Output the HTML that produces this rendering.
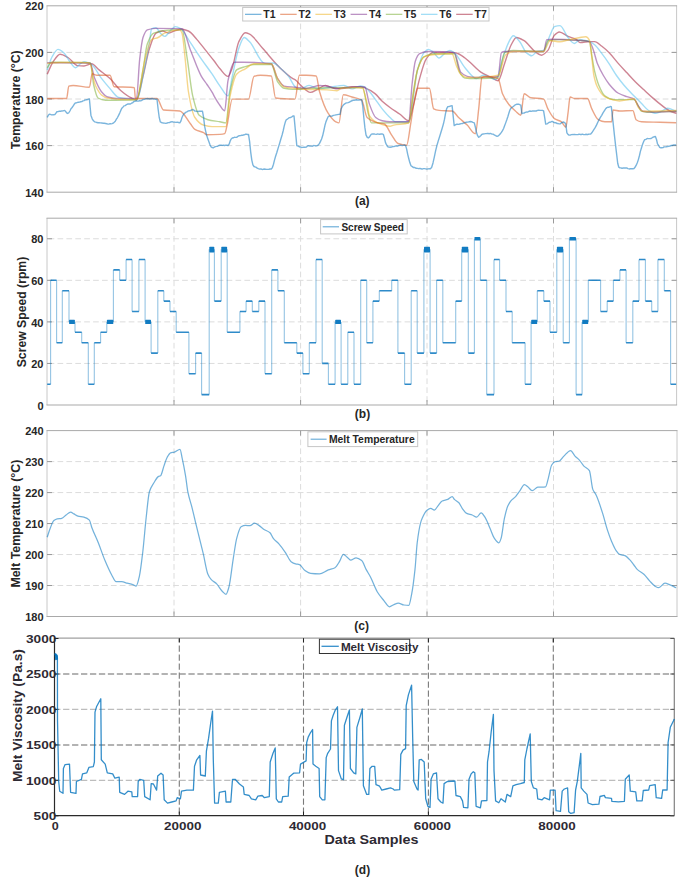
<!DOCTYPE html>
<html><head><meta charset="utf-8"><title>Figure</title>
<style>html,body{margin:0;padding:0;background:#fff;}svg{display:block;}</style></head>
<body><svg width="685" height="878" viewBox="0 0 685 878">
<rect width="685" height="878" fill="#fff"/>
<line x1="47" y1="52.40" x2="676.6" y2="52.40" stroke="#dcdcdc" stroke-width="1" stroke-dasharray="5.7 3.2" stroke-dashoffset="-1.6"/>
<line x1="47" y1="99.00" x2="676.6" y2="99.00" stroke="#dcdcdc" stroke-width="1" stroke-dasharray="5.7 3.2" stroke-dashoffset="-1.6"/>
<line x1="47" y1="145.60" x2="676.6" y2="145.60" stroke="#dcdcdc" stroke-width="1" stroke-dasharray="5.7 3.2" stroke-dashoffset="-1.6"/>
<line x1="174" y1="5.8" x2="174" y2="192.2" stroke="#dcdcdc" stroke-width="1" stroke-dasharray="5.7 3.2"/>
<line x1="300.6" y1="5.8" x2="300.6" y2="192.2" stroke="#dcdcdc" stroke-width="1" stroke-dasharray="5.7 3.2"/>
<line x1="427" y1="5.8" x2="427" y2="192.2" stroke="#dcdcdc" stroke-width="1" stroke-dasharray="5.7 3.2"/>
<line x1="553.5" y1="5.8" x2="553.5" y2="192.2" stroke="#dcdcdc" stroke-width="1" stroke-dasharray="5.7 3.2"/>
<path d="M47,5.8V192.2M676.6,5.8V192.2" fill="none" stroke="#c8c8c8" stroke-width="1"/>
<path d="M46.5,5.8H677.1M46.5,192.2H677.1" fill="none" stroke="#a9a9a9" stroke-width="1"/>
<line x1="47" y1="52.4" x2="52" y2="52.4" stroke="#9a9a9a" stroke-width="1"/>
<line x1="671.6" y1="52.4" x2="676.6" y2="52.4" stroke="#9a9a9a" stroke-width="1"/>
<line x1="47" y1="99.0" x2="52" y2="99.0" stroke="#9a9a9a" stroke-width="1"/>
<line x1="671.6" y1="99.0" x2="676.6" y2="99.0" stroke="#9a9a9a" stroke-width="1"/>
<line x1="47" y1="145.6" x2="52" y2="145.6" stroke="#9a9a9a" stroke-width="1"/>
<line x1="671.6" y1="145.6" x2="676.6" y2="145.6" stroke="#9a9a9a" stroke-width="1"/>
<line x1="174" y1="192.2" x2="174" y2="187.2" stroke="#9a9a9a" stroke-width="1"/>
<line x1="174" y1="5.8" x2="174" y2="10.8" stroke="#9a9a9a" stroke-width="1"/>
<line x1="300.6" y1="192.2" x2="300.6" y2="187.2" stroke="#9a9a9a" stroke-width="1"/>
<line x1="300.6" y1="5.8" x2="300.6" y2="10.8" stroke="#9a9a9a" stroke-width="1"/>
<line x1="427" y1="192.2" x2="427" y2="187.2" stroke="#9a9a9a" stroke-width="1"/>
<line x1="427" y1="5.8" x2="427" y2="10.8" stroke="#9a9a9a" stroke-width="1"/>
<line x1="553.5" y1="192.2" x2="553.5" y2="187.2" stroke="#9a9a9a" stroke-width="1"/>
<line x1="553.5" y1="5.8" x2="553.5" y2="10.8" stroke="#9a9a9a" stroke-width="1"/>
<text x="43.5" y="10.4" text-anchor="end" font-family="Liberation Sans, sans-serif" font-size="11" font-weight="bold" fill="#262626">220</text>
<text x="43.5" y="57.0" text-anchor="end" font-family="Liberation Sans, sans-serif" font-size="11" font-weight="bold" fill="#262626">200</text>
<text x="43.5" y="103.6" text-anchor="end" font-family="Liberation Sans, sans-serif" font-size="11" font-weight="bold" fill="#262626">180</text>
<text x="43.5" y="150.2" text-anchor="end" font-family="Liberation Sans, sans-serif" font-size="11" font-weight="bold" fill="#262626">160</text>
<text x="43.5" y="196.8" text-anchor="end" font-family="Liberation Sans, sans-serif" font-size="11" font-weight="bold" fill="#262626">140</text>
<text transform="translate(20.1,99.8) rotate(-90)" text-anchor="middle" textLength="99" lengthAdjust="spacingAndGlyphs" font-family="Liberation Sans, sans-serif" font-size="12.2" font-weight="bold" fill="#262626">Temperature (°C)</text>
<g fill="none" stroke-width="1.4" stroke-linejoin="round" stroke-opacity="0.52">
<path d="M47.20,74.20 C49.13,70.13 51.07,64.80 53.00,62.00 C55.37,58.58 57.73,54.30 60.10,54.30 C62.73,54.30 65.37,56.07 68.00,57.50 C71.17,59.22 74.33,65.26 77.50,65.60 C79.67,65.84 81.83,66.00 84.00,66.00 C86.50,66.00 89.00,63.80 91.50,63.80 C94.03,63.80 96.57,67.87 99.10,69.90 C102.73,72.81 106.37,75.22 110.00,78.60 C113.57,81.92 117.13,87.45 120.70,90.50 C124.30,93.58 127.90,96.36 131.50,98.00 C133.17,98.76 134.83,99.80 136.50,99.80 C138.67,99.80 140.83,84.91 143.00,76.40 C145.17,67.89 147.33,54.88 149.50,48.30 C151.67,41.72 153.83,34.33 156.00,33.10 C158.17,31.87 160.33,31.00 162.50,31.00 C164.63,31.00 166.77,33.10 168.90,33.10 C171.07,33.10 173.23,31.07 175.40,30.50 C177.60,29.92 179.80,29.20 182.00,29.20 C184.13,29.20 186.27,30.09 188.40,31.00 C191.27,32.22 194.13,36.43 197.00,39.60 C199.90,42.81 202.80,46.78 205.70,50.40 C208.60,54.02 211.50,57.54 214.40,61.30 C216.27,63.72 218.13,66.70 220.00,68.80 C222.67,71.79 225.33,76.40 228.00,76.40 C229.43,76.40 230.87,71.46 232.30,67.70 C234.47,62.01 236.63,46.29 238.80,41.80 C240.97,37.31 243.13,32.70 245.30,32.70 C246.73,32.70 248.17,33.50 249.60,34.20 C253.93,36.31 258.27,43.53 262.60,48.30 C268.37,54.65 274.13,62.20 279.90,67.70 C284.23,71.83 288.57,76.13 292.90,78.60 C293.60,79.00 294.30,79.18 295.00,79.60 C297.33,81.01 299.67,84.55 302.00,86.50 C304.73,88.78 307.47,92.40 310.20,92.40 C312.80,92.40 315.40,90.20 318.00,89.00 C320.47,87.87 322.93,85.40 325.40,85.40 C328.90,85.40 332.40,88.90 335.90,88.90 C338.93,88.90 341.97,87.86 345.00,87.50 C347.33,87.22 349.67,86.89 352.00,86.80 C354.80,86.69 357.60,86.60 360.40,86.60 C361.93,86.60 363.47,87.27 365.00,87.80 C368.33,88.95 371.67,91.05 375.00,93.60 C377.40,95.43 379.80,99.11 382.20,101.30 C384.80,103.68 387.40,105.59 390.00,107.50 C393.33,109.95 396.67,111.96 400.00,114.30 C402.93,116.36 405.87,120.70 408.80,120.70 C410.23,120.70 411.67,111.97 413.10,106.70 C415.27,98.73 417.43,86.27 419.60,78.60 C421.77,70.93 423.93,62.35 426.10,59.10 C428.27,55.85 430.43,52.71 432.60,52.60 C438.40,52.30 444.20,52.20 450.00,52.20 C452.13,52.20 454.27,52.57 456.40,53.00 C459.27,53.57 462.13,55.98 465.00,58.00 C466.67,59.18 468.33,60.83 470.00,62.30 C473.60,65.47 477.20,69.78 480.80,72.10 C484.40,74.42 488.00,75.72 491.60,77.50 C493.77,78.57 495.93,80.70 498.10,80.70 C500.27,80.70 502.43,69.34 504.60,63.40 C506.77,57.46 508.93,49.00 511.10,45.00 C512.90,41.68 514.70,37.50 516.50,37.50 C519.03,37.50 521.57,39.23 524.10,40.70 C527.70,42.78 531.30,48.95 534.90,51.50 C537.07,53.04 539.23,55.20 541.40,55.20 C543.57,55.20 545.73,52.83 547.90,50.40 C550.07,47.97 552.23,37.51 554.40,35.30 C556.03,33.64 557.67,32.00 559.30,32.00 C562.20,32.00 565.10,35.16 568.00,36.40 C570.87,37.63 573.73,38.01 576.60,39.60 C577.73,40.23 578.87,42.60 580.00,42.60 C583.40,42.60 586.80,41.60 590.20,41.60 C591.67,41.60 593.13,41.60 594.60,41.60 C597.03,41.60 599.47,44.48 601.90,46.30 C604.33,48.12 606.77,50.35 609.20,52.80 C612.13,55.75 615.07,59.79 618.00,63.10 C620.90,66.38 623.80,69.47 626.70,72.60 C629.63,75.77 632.57,79.08 635.50,82.00 C638.40,84.88 641.30,87.43 644.20,90.10 C647.13,92.80 650.07,95.56 653.00,98.10 C655.93,100.64 658.87,103.16 661.80,105.40 C664.20,107.23 666.60,109.29 669.00,110.50 C671.47,111.75 673.93,112.43 676.40,113.40" stroke="#A2142F"/>
<path d="M47.20,69.90 C48.80,65.60 50.40,59.79 52.00,57.00 C54.00,53.51 56.00,49.40 58.00,49.40 C60.00,49.40 62.00,51.29 64.00,53.00 C66.00,54.71 68.00,59.50 70.00,62.00 C71.77,64.21 73.53,67.70 75.30,67.70 C76.87,67.70 78.43,65.04 80.00,64.00 C81.33,63.12 82.67,61.70 84.00,61.70 C86.50,61.70 89.00,63.07 91.50,64.50 C94.77,66.37 98.03,73.89 101.30,78.10 C104.20,81.84 107.10,85.39 110.00,88.60 C112.87,91.77 115.73,96.73 118.60,97.40 C124.57,98.78 130.53,99.50 136.50,99.50 C139.37,99.50 142.23,78.90 145.10,65.60 C146.57,58.80 148.03,50.34 149.50,41.80 C150.20,37.73 150.90,29.18 151.60,28.80 C153.07,28.01 154.53,27.70 156.00,27.70 C157.43,27.70 158.87,31.73 160.30,33.10 C161.73,34.47 163.17,36.40 164.60,36.40 C166.77,36.40 168.93,31.76 171.10,29.90 C172.53,28.67 173.97,26.60 175.40,26.60 C177.20,26.60 179.00,27.72 180.80,28.80 C184.07,30.77 187.33,38.10 190.60,42.90 C194.20,48.19 197.80,53.89 201.40,59.10 C205.00,64.31 208.60,68.93 212.20,74.20 C214.80,78.00 217.40,82.57 220.00,86.10 C222.67,89.73 225.33,95.90 228.00,95.90 C229.43,95.90 230.87,82.75 232.30,76.40 C234.47,66.79 236.63,54.16 238.80,48.30 C240.60,43.43 242.40,37.50 244.20,37.50 C246.00,37.50 247.80,40.04 249.60,41.80 C254.67,46.75 259.73,63.40 264.80,63.40 C267.67,63.40 270.53,63.00 273.40,63.00 C275.57,63.00 277.73,65.90 279.90,67.70 C282.80,70.12 285.70,72.79 288.60,76.40 C290.73,79.05 292.87,84.74 295.00,86.60 C296.57,87.96 298.13,89.50 299.70,89.50 C302.80,89.50 305.90,85.40 309.00,85.40 C312.13,85.40 315.27,88.90 318.40,88.90 C322.27,88.90 326.13,87.73 330.00,87.20 C334.67,86.56 339.33,85.40 344.00,85.40 C346.73,85.40 349.47,88.90 352.20,88.90 C354.93,88.90 357.67,86.00 360.40,86.00 C361.60,86.00 362.80,86.28 364.00,86.60 C365.67,87.05 367.33,89.25 369.00,91.00 C371.00,93.10 373.00,96.20 375.00,98.90 C377.40,102.14 379.80,105.95 382.20,108.90 C384.80,112.10 387.40,115.22 390.00,117.50 C391.93,119.20 393.87,121.80 395.80,121.80 C400.13,121.80 404.47,121.80 408.80,121.80 C411.70,121.80 414.60,80.38 417.50,69.90 C419.67,62.07 421.83,55.03 424.00,52.60 C425.43,50.99 426.87,49.40 428.30,49.40 C429.73,49.40 431.17,50.58 432.60,51.50 C434.77,52.89 436.93,58.00 439.10,58.00 C441.27,58.00 443.43,53.95 445.60,52.60 C447.03,51.71 448.47,50.40 449.90,50.40 C451.33,50.40 452.77,51.59 454.20,52.60 C457.80,55.13 461.40,63.62 465.00,67.70 C468.83,72.04 472.67,78.60 476.50,78.60 C478.67,78.60 480.83,75.30 483.00,75.30 C487.33,75.30 491.67,79.60 496.00,79.60 C498.17,79.60 500.33,65.41 502.50,59.10 C504.63,52.89 506.77,45.63 508.90,41.80 C510.37,39.16 511.83,35.70 513.30,35.70 C515.47,35.70 517.63,39.20 519.80,41.80 C521.97,44.40 524.13,50.73 526.30,52.60 C528.10,54.15 529.90,55.80 531.70,55.80 C533.50,55.80 535.30,52.01 537.10,51.50 C539.27,50.88 541.43,51.09 543.60,50.40 C545.73,49.72 547.87,39.87 550.00,35.30 C551.47,32.16 552.93,27.10 554.40,26.60 C556.27,25.97 558.13,25.60 560.00,25.60 C562.67,25.60 565.33,34.49 568.00,37.50 C570.17,39.95 572.33,43.50 574.50,43.50 C576.33,43.50 578.17,39.70 580.00,39.70 C582.93,39.70 585.87,40.38 588.80,41.20 C590.73,41.74 592.67,43.23 594.60,44.80 C597.03,46.77 599.47,50.45 601.90,53.60 C604.33,56.75 606.77,60.17 609.20,63.80 C611.63,67.43 614.07,72.00 616.50,75.50 C618.93,79.00 621.37,82.10 623.80,85.00 C626.23,87.90 628.67,90.45 631.10,93.00 C634.50,96.56 637.90,99.80 641.30,103.20 C643.73,105.63 646.17,109.12 648.60,110.50 C651.03,111.88 653.47,113.40 655.90,113.40 C657.87,113.40 659.83,112.04 661.80,111.20 C663.73,110.37 665.67,108.30 667.60,108.30 C670.53,108.30 673.47,110.23 676.40,111.20" stroke="#4DBEEE"/>
<path d="M47.20,67.70 C48.63,65.90 50.07,62.30 51.50,62.30 C64.47,62.30 77.43,62.34 90.40,62.80 C91.50,62.84 92.60,80.33 93.70,85.00 C95.13,91.08 96.57,97.18 98.00,98.00 C100.53,99.45 103.07,100.20 105.60,100.20 C115.90,100.20 126.20,100.14 136.50,99.80 C138.67,99.73 140.83,81.33 143.00,69.90 C144.43,62.34 145.87,47.79 147.30,43.90 C149.47,38.03 151.63,33.85 153.80,33.10 C160.30,30.85 166.80,29.90 173.30,29.90 C176.20,29.90 179.10,29.90 182.00,29.90 C183.77,29.90 185.53,48.34 187.30,59.10 C189.10,70.06 190.90,88.34 192.70,95.90 C194.87,105.00 197.03,113.36 199.20,115.30 C202.10,117.90 205.00,118.93 207.90,119.70 C211.93,120.77 215.97,121.07 220.00,121.80 C221.93,122.15 223.87,122.90 225.80,122.90 C227.23,122.90 228.67,98.22 230.10,91.50 C232.27,81.35 234.43,71.39 236.60,69.90 C239.50,67.90 242.40,67.57 245.30,66.70 C248.20,65.83 251.10,64.50 254.00,64.50 C259.77,64.50 265.53,64.50 271.30,64.50 C273.43,64.50 275.57,78.68 277.70,81.80 C279.87,84.97 282.03,87.79 284.20,88.30 C287.10,88.98 290.00,89.40 292.90,89.40 C296.93,89.40 300.97,88.63 305.00,88.50 C324.23,87.87 343.47,87.50 362.70,87.50 C364.53,87.50 366.37,106.58 368.20,113.20 C369.27,117.05 370.33,122.90 371.40,122.90 C383.87,122.90 396.33,122.90 408.80,122.90 C410.23,122.90 411.67,102.33 413.10,93.70 C414.57,84.86 416.03,74.36 417.50,69.90 C419.63,63.42 421.77,58.07 423.90,56.90 C427.53,54.91 431.17,53.70 434.80,53.70 C441.27,53.70 447.73,53.70 454.20,53.70 C456.00,53.70 457.80,69.08 459.60,72.10 C461.40,75.12 463.20,77.91 465.00,78.10 C468.33,78.45 471.67,78.60 475.00,78.60 C482.70,78.60 490.40,78.39 498.10,77.50 C500.27,77.25 502.43,53.67 504.60,52.60 C507.50,51.16 510.40,50.40 513.30,50.40 C523.40,50.40 533.50,51.50 543.60,51.50 C545.03,51.50 546.47,41.00 547.90,40.70 C551.93,39.87 555.97,39.60 560.00,39.60 C566.67,39.60 573.33,39.97 580.00,40.40 C583.17,40.61 586.33,40.62 589.50,41.60 C590.23,41.83 590.97,50.73 591.70,55.00 C592.67,60.63 593.63,67.01 594.60,71.10 C596.07,77.30 597.53,82.28 599.00,85.70 C600.93,90.21 602.87,94.53 604.80,95.90 C607.73,97.98 610.67,99.60 613.60,99.60 C620.40,99.60 627.20,99.60 634.00,99.60 C635.47,99.60 636.93,103.73 638.40,106.10 C639.37,107.66 640.33,110.83 641.30,111.20 C643.20,111.92 645.10,112.30 647.00,112.30 C656.80,112.30 666.60,111.57 676.40,111.20" stroke="#77AC30"/>
<path d="M47.20,62.80 C61.47,62.93 75.73,62.84 90.00,63.20 C91.60,63.24 93.20,74.63 94.80,78.60 C96.97,83.98 99.13,88.90 101.30,91.50 C103.43,94.06 105.57,96.37 107.70,97.00 C110.60,97.86 113.50,98.50 116.40,98.50 C123.10,98.50 129.80,98.50 136.50,98.50 C137.57,98.50 138.63,68.23 139.70,59.10 C140.80,49.68 141.90,40.64 143.00,37.50 C144.43,33.41 145.87,30.40 147.30,29.90 C150.20,28.90 153.10,28.40 156.00,28.40 C164.67,28.40 173.33,28.48 182.00,28.80 C184.87,28.91 187.73,43.35 190.60,50.40 C194.20,59.26 197.80,70.06 201.40,76.40 C203.27,79.69 205.13,81.73 207.00,84.50 C208.73,87.07 210.47,89.47 212.20,92.40 C213.13,93.98 214.07,95.99 215.00,97.60 C216.67,100.47 218.33,103.31 220.00,105.50 C221.57,107.56 223.13,110.80 224.70,110.80 C225.80,110.80 226.90,85.74 228.00,80.70 C230.17,70.77 232.33,62.30 234.50,62.30 C237.37,62.30 240.23,62.30 243.10,62.30 C252.50,62.30 261.90,62.58 271.30,63.80 C273.43,64.08 275.57,75.31 277.70,78.60 C279.87,81.94 282.03,85.66 284.20,86.10 C287.80,86.82 291.40,86.83 295.00,87.20 C298.90,87.60 302.80,88.40 306.70,88.40 C311.13,88.40 315.57,85.50 320.00,85.50 C326.67,85.50 333.33,88.50 340.00,88.50 C346.67,88.50 353.33,86.60 360.00,86.60 C361.67,86.60 363.33,86.80 365.00,87.20 C366.40,87.54 367.80,99.54 369.20,103.50 C371.37,109.63 373.53,115.76 375.70,117.50 C377.87,119.24 380.03,120.22 382.20,120.70 C384.80,121.28 387.40,121.80 390.00,121.80 C396.27,121.80 402.53,121.80 408.80,121.80 C409.87,121.80 410.93,94.44 412.00,85.00 C413.10,75.26 414.20,64.51 415.30,61.30 C416.73,57.12 418.17,54.39 419.60,53.70 C422.50,52.30 425.40,51.50 428.30,51.50 C436.93,51.50 445.57,51.70 454.20,52.60 C456.37,52.83 458.53,69.75 460.70,72.10 C462.87,74.45 465.03,75.89 467.20,76.40 C469.80,77.02 472.40,77.50 475.00,77.50 C482.70,77.50 490.40,77.37 498.10,76.40 C499.20,76.26 500.30,53.32 501.40,52.60 C502.47,51.90 503.53,51.50 504.60,51.50 C517.60,51.50 530.60,51.50 543.60,51.50 C544.67,51.50 545.73,39.77 546.80,39.60 C548.60,39.32 550.40,39.20 552.20,39.20 C561.47,39.20 570.73,39.75 580.00,40.40 C583.17,40.62 586.33,40.73 589.50,41.60 C590.70,41.93 591.90,46.13 593.10,49.20 C594.57,52.96 596.03,60.11 597.50,63.80 C599.47,68.74 601.43,72.14 603.40,75.50 C605.33,78.80 607.27,81.85 609.20,84.20 C612.13,87.77 615.07,91.28 618.00,93.00 C620.90,94.70 623.80,95.59 626.70,96.60 C629.13,97.44 631.57,97.48 634.00,98.80 C635.47,99.59 636.93,104.10 638.40,106.10 C639.87,108.10 641.33,110.96 642.80,111.20 C646.20,111.76 649.60,112.00 653.00,112.00 C660.80,112.00 668.60,111.47 676.40,111.20" stroke="#7E2F8E"/>
<path d="M47.20,63.40 C51.47,63.10 55.73,62.50 60.00,62.50 C66.67,62.50 73.33,62.50 80.00,62.50 C82.67,62.50 85.33,62.57 88.00,62.80 C88.80,62.87 89.60,63.54 90.40,64.50 C91.43,65.74 92.47,75.50 93.50,79.30 C94.27,82.12 95.03,84.57 95.80,86.30 C96.80,88.56 97.80,90.17 98.80,91.60 C99.77,92.98 100.73,94.38 101.70,95.10 C103.63,96.53 105.57,97.67 107.50,98.00 C109.47,98.33 111.43,98.37 113.40,98.60 C115.13,98.80 116.87,99.26 118.60,99.30 C124.57,99.45 130.53,99.50 136.50,99.50 C139.37,99.50 142.23,69.49 145.10,59.10 C147.27,51.25 149.43,40.86 151.60,39.60 C153.77,38.34 155.93,38.45 158.10,37.50 C160.27,36.55 162.43,33.85 164.60,33.10 C169.67,31.35 174.73,29.90 179.80,29.90 C180.53,29.90 181.27,31.37 182.00,33.10 C183.07,35.62 184.13,49.48 185.20,59.10 C186.27,68.72 187.33,85.07 188.40,91.50 C190.57,104.57 192.73,114.29 194.90,117.50 C197.80,121.79 200.70,124.26 203.60,125.10 C206.47,125.93 209.33,126.60 212.20,126.60 C216.73,126.60 221.27,126.60 225.80,126.60 C227.23,126.60 228.67,102.59 230.10,95.90 C232.27,85.79 234.43,76.55 236.60,74.20 C239.50,71.06 242.40,70.53 245.30,68.80 C248.20,67.07 251.10,63.80 254.00,63.80 C259.77,63.80 265.53,63.80 271.30,63.80 C273.43,63.80 275.57,75.11 277.70,78.60 C279.87,82.14 282.03,86.19 284.20,86.80 C287.80,87.82 291.40,87.98 295.00,88.40 C298.90,88.85 302.80,89.50 306.70,89.50 C310.60,89.50 314.50,89.50 318.40,89.50 C322.27,89.50 326.13,89.85 330.00,90.10 C332.33,90.25 334.67,90.70 337.00,90.70 C338.57,90.70 340.13,88.59 341.70,88.40 C346.13,87.86 350.57,87.60 355.00,87.60 C357.57,87.60 360.13,87.78 362.70,88.40 C363.47,88.59 364.23,92.79 365.00,95.40 C365.80,98.13 366.60,100.92 367.40,104.70 C368.00,107.53 368.60,114.21 369.20,115.30 C372.10,120.57 375.00,121.66 377.90,122.90 C381.93,124.63 385.97,126.20 390.00,126.20 C391.23,126.20 392.47,125.36 393.70,125.10 C398.73,124.04 403.77,124.64 408.80,122.90 C410.23,122.40 411.67,104.63 413.10,95.90 C414.57,86.97 416.03,74.47 417.50,69.90 C419.63,63.25 421.77,57.86 423.90,56.90 C426.80,55.60 429.70,55.09 432.60,54.80 C439.07,54.16 445.53,53.70 452.00,53.70 C453.47,53.70 454.93,62.23 456.40,65.60 C457.83,68.89 459.27,72.99 460.70,74.20 C462.87,76.03 465.03,77.50 467.20,77.50 C469.80,77.50 472.40,77.50 475.00,77.50 C482.70,77.50 490.40,76.98 498.10,75.30 C500.63,74.75 503.17,56.69 505.70,54.80 C508.23,52.91 510.77,51.50 513.30,51.50 C523.40,51.50 533.50,51.50 543.60,51.50 C545.73,51.50 547.87,40.70 550.00,40.70 C553.33,40.70 556.67,41.80 560.00,41.80 C562.67,41.80 565.33,40.58 568.00,40.00 C572.00,39.13 576.00,38.09 580.00,37.50 C581.93,37.21 583.87,36.80 585.80,36.80 C587.03,36.80 588.27,38.13 589.50,40.40 C590.23,41.75 590.97,50.69 591.70,56.50 C592.43,62.31 593.17,71.91 593.90,75.50 C595.10,81.38 596.30,84.87 597.50,87.20 C599.93,91.92 602.37,95.08 604.80,96.60 C607.23,98.12 609.67,98.96 612.10,99.60 C614.53,100.24 616.97,101.00 619.40,101.00 C624.27,101.00 629.13,98.80 634.00,98.80 C635.47,98.80 636.93,105.90 638.40,107.60 C639.87,109.30 641.33,111.20 642.80,111.20 C654.00,111.20 665.20,110.73 676.40,110.50" stroke="#EDB120"/>
<path d="M47.20,98.50 C53.67,98.50 60.13,98.50 66.60,98.50 C67.33,98.50 68.07,86.32 68.80,86.10 C70.23,85.67 71.67,85.50 73.10,85.50 C78.53,85.50 83.97,87.20 89.40,87.20 C90.33,87.20 91.27,73.80 92.20,73.80 C93.80,73.80 95.40,75.30 97.00,75.30 C101.33,75.30 105.67,75.30 110.00,75.30 C111.40,75.30 112.80,86.71 114.20,86.80 C119.47,87.13 124.73,86.96 130.00,87.20 C131.43,87.26 132.87,87.27 134.30,87.60 C134.67,87.68 135.03,98.50 135.40,98.50 C142.60,98.50 149.80,98.50 157.00,98.50 C159.17,98.50 161.33,109.70 163.50,110.00 C168.93,110.74 174.37,110.32 179.80,111.00 C183.40,111.45 187.00,119.56 190.60,124.00 C192.03,125.77 193.47,128.53 194.90,129.40 C197.80,131.16 200.70,131.14 203.60,132.60 C204.67,133.14 205.73,134.80 206.80,134.80 C211.20,134.80 215.60,134.65 220.00,134.40 C221.57,134.31 223.13,134.20 224.70,133.70 C225.43,133.46 226.17,129.10 226.90,126.20 C228.70,119.08 230.50,99.10 232.30,99.10 C237.70,99.10 243.10,99.10 248.50,99.10 C250.33,99.10 252.17,77.02 254.00,76.40 C256.13,75.68 258.27,75.30 260.40,75.30 C264.03,75.30 267.67,75.46 271.30,76.00 C272.73,76.21 274.17,97.80 275.60,98.00 C282.07,98.92 288.53,99.10 295.00,99.10 C296.47,99.10 297.93,75.30 299.40,75.30 C301.77,75.30 304.13,75.30 306.50,75.30 C309.73,75.30 312.97,75.45 316.20,76.00 C317.30,76.19 318.40,87.72 319.50,91.50 C322.37,101.35 325.23,108.76 328.10,113.20 C330.63,117.13 333.17,120.55 335.70,121.80 C336.77,122.32 337.83,122.90 338.90,122.90 C340.37,122.90 341.83,94.80 343.30,94.80 C346.17,94.80 349.03,96.18 351.90,97.00 C355.17,97.93 358.43,98.10 361.70,100.20 C363.50,101.36 365.30,115.81 367.10,117.50 C370.70,120.89 374.30,122.03 377.90,122.90 C380.07,123.43 382.23,123.35 384.40,124.00 C386.77,124.71 389.13,131.43 391.50,134.80 C393.67,137.88 395.83,142.73 398.00,143.50 C400.87,144.52 403.73,145.20 406.60,145.20 C408.07,145.20 409.53,130.09 411.00,121.80 C412.43,113.70 413.87,102.02 415.30,95.90 C416.03,92.77 416.77,88.30 417.50,88.30 C421.47,88.30 425.43,88.30 429.40,88.30 C430.83,88.30 432.27,108.12 433.70,108.90 C435.50,109.88 437.30,110.24 439.10,110.40 C443.43,110.78 447.77,110.57 452.10,111.00 C454.27,111.21 456.43,115.46 458.60,117.50 C461.47,120.20 464.33,122.35 467.20,125.10 C469.93,127.72 472.67,133.70 475.40,133.70 C476.50,133.70 477.60,118.27 478.70,108.90 C479.77,99.81 480.83,78.21 481.90,77.50 C482.97,76.79 484.03,76.40 485.10,76.40 C489.43,76.40 493.77,76.96 498.10,78.60 C499.57,79.16 501.03,90.31 502.50,93.70 C504.63,98.63 506.77,101.82 508.90,104.50 C511.07,107.22 513.23,109.09 515.40,111.00 C517.20,112.59 519.00,115.30 520.80,115.30 C521.90,115.30 523.00,93.70 524.10,93.70 C526.27,93.70 528.43,97.15 530.60,97.60 C534.93,98.51 539.27,97.98 543.60,99.10 C545.03,99.47 546.47,106.28 547.90,108.90 C550.07,112.86 552.23,117.09 554.40,118.60 C556.77,120.25 559.13,120.17 561.50,121.80 C562.93,122.79 564.37,127.20 565.80,127.20 C566.53,127.20 567.27,118.32 568.00,113.20 C568.70,108.31 569.40,97.00 570.10,97.00 C571.57,97.00 573.03,98.50 574.50,98.50 C578.83,98.50 583.17,98.50 587.50,98.50 C588.93,98.50 590.37,106.04 591.80,108.90 C593.97,113.22 596.13,118.53 598.30,119.70 C600.47,120.87 602.63,121.80 604.80,121.80 C607.10,121.80 609.40,121.80 611.70,121.80 C612.13,121.80 612.57,110.00 613.00,110.00 C615.30,110.00 617.60,111.00 619.90,111.00 C624.23,111.00 628.57,110.60 632.90,110.60 C633.97,110.60 635.03,118.92 636.10,119.70 C637.90,121.02 639.70,121.69 641.50,121.80 C647.67,122.17 653.83,122.12 660.00,122.30 C665.37,122.46 670.73,122.63 676.10,122.80" stroke="#D95319"/>
<path d="M47.2,117.43 L48.2,115.47 L49.3,114.13 L50.4,114.44 L51.5,114.90 L52.6,114.82 L53.7,114.68 L54.8,114.66 L55.9,113.22 L56.9,111.76 L58.0,111.60 L59.3,111.22 L60.6,111.26 L61.9,110.93 L63.2,110.87 L64.5,110.43 L65.6,111.29 L66.6,112.86 L67.7,113.42 L68.8,112.75 L69.9,111.00 L71.0,108.73 L72.1,107.51 L73.2,105.94 L74.2,104.29 L75.3,102.94 L76.4,102.87 L77.5,102.38 L78.5,102.20 L79.6,102.11 L80.7,101.76 L81.8,101.57 L82.9,100.86 L84.0,100.64 L85.1,99.97 L86.1,99.82 L87.2,99.74 L88.3,99.13 L89.4,99.01 L90.9,115.17 L92.2,118.77 L93.5,120.80 L94.8,121.93 L95.9,122.15 L96.9,122.54 L98.0,122.69 L99.1,122.69 L100.4,122.85 L101.7,122.94 L103.0,123.28 L104.3,123.29 L105.6,123.51 L106.7,123.69 L107.8,124.09 L108.9,124.15 L110.0,123.70 L111.0,123.82 L112.1,123.68 L113.2,123.21 L114.2,122.30 L115.3,121.22 L116.4,119.16 L117.5,117.55 L118.6,115.38 L119.7,113.08 L120.8,110.40 L121.8,108.21 L122.9,107.17 L124.0,105.85 L125.1,105.56 L126.1,104.94 L127.2,104.22 L128.3,103.85 L129.3,103.99 L130.4,104.07 L131.5,103.21 L132.7,102.73 L133.8,101.50 L135.0,101.25 L136.2,100.81 L137.3,100.99 L138.5,101.13 L139.6,100.73 L140.8,100.84 L142.1,100.15 L143.4,99.40 L144.7,99.32 L146.0,98.73 L147.3,98.57 L148.5,98.70 L149.7,98.96 L150.9,98.71 L152.2,98.46 L153.4,99.04 L154.6,98.90 L155.8,99.38 L157.0,99.26 L158.1,108.96 L159.2,117.22 L160.3,121.87 L161.4,122.47 L162.4,122.83 L163.5,123.00 L164.6,123.10 L165.8,123.35 L167.1,122.99 L168.3,122.59 L169.6,122.50 L170.8,121.95 L172.1,121.64 L173.3,122.09 L174.6,122.11 L175.9,122.35 L177.2,122.18 L178.5,122.51 L179.8,122.87 L180.9,121.08 L181.9,117.81 L183.0,115.30 L184.1,113.67 L185.2,112.88 L186.2,112.04 L187.3,111.57 L188.4,110.93 L189.5,110.77 L190.6,110.60 L191.6,109.84 L192.7,109.47 L193.8,110.05 L194.8,111.01 L195.9,111.15 L197.0,111.34 L198.1,111.45 L199.2,111.27 L200.3,111.20 L201.4,111.12 L202.5,111.31 L203.6,117.43 L204.6,126.13 L205.7,131.32 L206.8,135.72 L207.9,138.99 L209.0,142.05 L210.1,144.94 L211.1,146.96 L212.2,147.50 L213.3,147.77 L214.3,147.22 L215.4,146.66 L216.5,146.41 L217.7,146.30 L218.8,145.52 L220.0,145.23 L221.2,145.10 L222.3,145.43 L223.5,145.26 L224.6,145.53 L225.8,145.09 L226.9,145.19 L228.0,145.60 L229.1,144.18 L230.1,141.16 L231.2,138.96 L232.3,138.05 L233.4,137.78 L234.4,137.25 L235.5,137.37 L236.6,137.31 L237.9,136.40 L239.2,135.71 L240.5,135.58 L241.8,135.25 L243.1,135.19 L244.2,134.77 L245.3,134.30 L246.3,134.14 L247.4,134.47 L248.5,134.35 L249.6,141.31 L250.7,152.04 L251.8,160.08 L252.9,164.90 L254.0,166.51 L255.1,166.96 L256.1,167.19 L257.2,168.17 L258.3,168.68 L259.5,169.08 L260.7,168.87 L261.8,169.23 L263.0,169.46 L264.2,168.99 L265.4,169.19 L266.6,169.41 L267.8,169.39 L268.9,169.26 L270.1,168.98 L271.3,168.96 L272.4,167.56 L273.5,164.19 L274.5,160.16 L275.6,156.30 L276.9,152.30 L278.2,147.92 L279.5,143.71 L280.8,139.32 L282.1,134.96 L283.2,130.75 L284.2,126.12 L285.3,122.07 L286.4,119.58 L287.5,119.06 L288.5,118.19 L289.6,117.68 L290.7,117.47 L291.8,116.81 L292.9,116.04 L294.0,115.90 L295.4,130.61 L296.8,145.64 L298.0,145.95 L299.1,146.77 L300.3,147.00 L301.5,147.44 L302.7,147.34 L303.8,147.14 L305.0,147.29 L306.2,147.15 L307.5,145.91 L308.7,145.76 L309.9,146.07 L311.2,146.15 L312.4,146.21 L313.6,145.54 L314.8,145.67 L316.1,145.96 L317.3,145.55 L318.4,144.93 L319.5,143.41 L320.5,141.37 L321.6,139.04 L322.7,135.54 L323.8,130.73 L324.9,125.56 L326.0,121.62 L327.1,118.94 L328.1,116.76 L329.4,115.94 L330.7,116.18 L332.0,116.15 L333.3,115.38 L334.6,115.18 L336.0,114.84 L337.3,114.64 L338.6,114.42 L340.0,114.28 L341.1,108.94 L342.2,106.70 L343.3,105.08 L344.4,104.15 L345.6,103.19 L346.9,102.83 L348.1,102.63 L349.4,102.07 L350.6,101.32 L351.9,100.76 L353.0,100.40 L354.1,100.18 L355.2,100.10 L356.3,99.78 L357.6,100.05 L359.0,100.06 L360.4,99.90 L361.7,99.78 L362.8,106.50 L363.8,117.55 L364.9,127.70 L366.0,134.86 L367.1,137.17 L368.2,137.92 L369.3,137.11 L370.3,135.57 L371.4,134.10 L372.6,133.96 L373.9,133.83 L375.1,134.12 L376.3,134.33 L377.5,133.94 L378.8,134.18 L380.0,134.24 L381.1,133.89 L382.2,134.05 L383.3,134.31 L384.4,137.99 L385.5,142.60 L386.6,144.93 L387.6,146.60 L388.7,147.17 L390.1,147.19 L391.5,147.05 L392.7,146.54 L393.9,146.61 L395.0,146.09 L396.2,145.84 L397.4,146.18 L398.6,145.69 L399.7,145.38 L400.9,145.15 L402.1,145.67 L403.2,145.34 L404.4,144.99 L405.6,145.58 L406.6,148.87 L407.7,154.32 L408.8,158.74 L409.9,162.87 L411.0,165.75 L412.3,166.64 L413.6,167.57 L414.9,167.57 L416.2,168.26 L417.5,168.42 L418.7,168.68 L419.8,168.34 L421.0,168.73 L422.2,169.16 L423.4,168.67 L424.5,168.63 L425.7,168.83 L426.9,169.19 L428.1,168.89 L429.2,168.66 L430.4,168.87 L431.7,167.24 L433.0,162.96 L434.3,157.07 L435.6,150.87 L436.9,145.55 L438.2,141.17 L439.5,136.98 L440.8,132.73 L442.1,128.49 L443.4,124.07 L444.5,119.20 L445.5,113.71 L446.6,108.91 L447.7,106.78 L448.8,106.51 L449.9,106.21 L451.0,105.88 L452.1,105.63 L453.1,115.41 L454.2,125.56 L455.3,124.94 L456.4,124.29 L457.5,124.29 L458.6,124.36 L459.9,123.98 L461.2,123.62 L462.4,123.56 L463.7,122.98 L465.0,122.62 L466.3,122.21 L467.6,122.17 L468.9,121.81 L470.2,121.48 L471.5,121.73 L472.9,122.44 L474.3,122.91 L475.4,127.26 L476.5,132.61 L477.6,135.66 L478.7,137.28 L479.8,136.59 L480.9,135.51 L481.9,134.32 L483.0,134.03 L484.2,133.90 L485.5,133.58 L486.7,133.52 L487.9,133.43 L489.1,133.76 L490.4,133.40 L491.6,133.94 L493.0,134.17 L494.3,134.96 L495.6,135.63 L497.0,136.24 L498.1,136.08 L499.2,135.10 L500.3,133.73 L501.4,132.38 L502.5,130.65 L503.6,128.54 L504.6,125.84 L505.7,122.87 L506.8,119.80 L507.9,116.44 L509.0,112.81 L510.0,109.76 L511.1,107.98 L512.5,107.02 L513.8,106.07 L515.1,104.90 L516.5,104.31 L517.6,104.20 L518.6,104.13 L519.7,104.65 L520.8,105.08 L521.9,113.70 L523.0,113.15 L524.1,113.12 L525.2,112.44 L526.3,112.07 L527.5,112.08 L528.8,111.45 L530.0,111.02 L531.2,111.36 L532.4,111.04 L533.7,110.87 L534.9,110.93 L536.2,111.00 L537.5,110.41 L538.8,110.32 L540.1,110.35 L541.4,110.42 L542.5,110.34 L543.6,110.96 L544.7,117.69 L545.7,124.09 L547.0,123.87 L548.3,122.95 L549.6,122.21 L550.9,121.96 L552.2,121.41 L553.4,122.04 L554.6,122.69 L555.8,122.60 L556.9,123.46 L558.1,123.55 L559.3,123.89 L560.4,123.72 L561.5,122.76 L562.6,122.27 L563.7,122.05 L564.8,122.79 L565.8,124.01 L566.9,132.85 L568.0,134.42 L569.0,135.06 L570.1,135.12 L571.4,134.61 L572.7,134.57 L574.0,134.35 L575.3,134.52 L576.6,134.61 L577.8,134.58 L579.0,134.23 L580.1,134.43 L581.3,134.53 L582.5,134.20 L583.7,134.62 L584.9,134.67 L586.1,134.23 L587.2,134.68 L588.4,134.25 L589.6,134.16 L590.7,133.96 L591.8,132.78 L592.9,131.16 L594.0,129.46 L595.3,127.39 L596.6,124.91 L597.8,122.26 L599.1,119.63 L600.4,117.33 L601.7,115.32 L603.0,112.90 L604.3,110.84 L605.6,108.85 L606.9,107.62 L608.0,107.16 L609.1,107.23 L610.2,106.51 L611.3,106.65 L613.0,121.70 L614.3,134.10 L615.6,145.57 L616.7,154.78 L617.7,163.28 L618.8,167.21 L619.9,167.84 L621.0,167.88 L622.0,168.36 L623.1,168.02 L624.2,168.00 L625.4,167.91 L626.7,167.93 L627.9,168.57 L629.2,168.94 L630.4,168.71 L631.7,168.58 L632.9,168.69 L634.0,168.48 L635.0,167.33 L636.1,165.47 L637.2,163.00 L638.3,159.86 L639.4,155.76 L640.4,151.39 L641.5,147.74 L642.5,144.61 L643.6,141.65 L644.6,139.70 L645.9,139.41 L647.2,138.52 L648.5,138.61 L649.8,138.64 L651.1,138.51 L652.2,137.72 L653.2,137.17 L654.3,136.76 L655.4,136.47 L656.5,139.51 L657.5,143.80 L658.6,145.48 L659.7,147.35 L660.8,147.82 L661.9,147.75 L663.0,147.67 L664.0,146.85 L665.1,146.92 L666.2,146.80 L667.4,146.50 L668.7,146.27 L669.9,146.00 L671.2,145.53 L672.4,145.46 L673.6,144.91 L674.9,144.91 L676.1,144.95" stroke="#0072BD"/>
</g>
<rect x="242.7" y="7.4" width="246.3" height="13.6" fill="#fff" stroke="#c6c6c6" stroke-width="1"/>
<line x1="245.0" y1="14.3" x2="261.5" y2="14.3" stroke="#0072BD" stroke-opacity="0.62" stroke-width="1.1"/>
<text x="263.3" y="18.3" font-family="Liberation Sans, sans-serif" font-size="10.5" font-weight="bold" fill="#262626">T1</text>
<line x1="280.2" y1="14.3" x2="296.7" y2="14.3" stroke="#D95319" stroke-opacity="0.62" stroke-width="1.1"/>
<text x="298.5" y="18.3" font-family="Liberation Sans, sans-serif" font-size="10.5" font-weight="bold" fill="#262626">T2</text>
<line x1="315.4" y1="14.3" x2="331.9" y2="14.3" stroke="#EDB120" stroke-opacity="0.62" stroke-width="1.1"/>
<text x="333.7" y="18.3" font-family="Liberation Sans, sans-serif" font-size="10.5" font-weight="bold" fill="#262626">T3</text>
<line x1="350.6" y1="14.3" x2="367.1" y2="14.3" stroke="#7E2F8E" stroke-opacity="0.62" stroke-width="1.1"/>
<text x="368.90000000000003" y="18.3" font-family="Liberation Sans, sans-serif" font-size="10.5" font-weight="bold" fill="#262626">T4</text>
<line x1="385.8" y1="14.3" x2="402.3" y2="14.3" stroke="#77AC30" stroke-opacity="0.62" stroke-width="1.1"/>
<text x="404.1" y="18.3" font-family="Liberation Sans, sans-serif" font-size="10.5" font-weight="bold" fill="#262626">T5</text>
<line x1="421.0" y1="14.3" x2="437.5" y2="14.3" stroke="#4DBEEE" stroke-opacity="0.62" stroke-width="1.1"/>
<text x="439.3" y="18.3" font-family="Liberation Sans, sans-serif" font-size="10.5" font-weight="bold" fill="#262626">T6</text>
<line x1="456.20000000000005" y1="14.3" x2="472.70000000000005" y2="14.3" stroke="#A2142F" stroke-opacity="0.62" stroke-width="1.1"/>
<text x="474.50000000000006" y="18.3" font-family="Liberation Sans, sans-serif" font-size="10.5" font-weight="bold" fill="#262626">T7</text>
<text x="362.3" y="205.3" text-anchor="middle" font-family="Liberation Sans, sans-serif" font-size="12" font-weight="bold" fill="#262626">(a)</text>
<line x1="47" y1="363.44" x2="676.6" y2="363.44" stroke="#dcdcdc" stroke-width="1" stroke-dasharray="5.7 3.2" stroke-dashoffset="-1.6"/>
<line x1="47" y1="321.88" x2="676.6" y2="321.88" stroke="#dcdcdc" stroke-width="1" stroke-dasharray="5.7 3.2" stroke-dashoffset="-1.6"/>
<line x1="47" y1="280.32" x2="676.6" y2="280.32" stroke="#dcdcdc" stroke-width="1" stroke-dasharray="5.7 3.2" stroke-dashoffset="-1.6"/>
<line x1="47" y1="238.76" x2="676.6" y2="238.76" stroke="#dcdcdc" stroke-width="1" stroke-dasharray="5.7 3.2" stroke-dashoffset="-1.6"/>
<line x1="174" y1="218.2" x2="174" y2="405" stroke="#dcdcdc" stroke-width="1" stroke-dasharray="5.7 3.2"/>
<line x1="300.6" y1="218.2" x2="300.6" y2="405" stroke="#dcdcdc" stroke-width="1" stroke-dasharray="5.7 3.2"/>
<line x1="427" y1="218.2" x2="427" y2="405" stroke="#dcdcdc" stroke-width="1" stroke-dasharray="5.7 3.2"/>
<line x1="553.5" y1="218.2" x2="553.5" y2="405" stroke="#dcdcdc" stroke-width="1" stroke-dasharray="5.7 3.2"/>
<path d="M47,218.2V405M676.6,218.2V405" fill="none" stroke="#c8c8c8" stroke-width="1"/>
<path d="M46.5,218.2H677.1M46.5,405H677.1" fill="none" stroke="#a9a9a9" stroke-width="1"/>
<line x1="47" y1="363.44" x2="52" y2="363.44" stroke="#9a9a9a" stroke-width="1"/>
<line x1="671.6" y1="363.44" x2="676.6" y2="363.44" stroke="#9a9a9a" stroke-width="1"/>
<line x1="47" y1="321.88" x2="52" y2="321.88" stroke="#9a9a9a" stroke-width="1"/>
<line x1="671.6" y1="321.88" x2="676.6" y2="321.88" stroke="#9a9a9a" stroke-width="1"/>
<line x1="47" y1="280.32" x2="52" y2="280.32" stroke="#9a9a9a" stroke-width="1"/>
<line x1="671.6" y1="280.32" x2="676.6" y2="280.32" stroke="#9a9a9a" stroke-width="1"/>
<line x1="47" y1="238.76000000000002" x2="52" y2="238.76000000000002" stroke="#9a9a9a" stroke-width="1"/>
<line x1="671.6" y1="238.76000000000002" x2="676.6" y2="238.76000000000002" stroke="#9a9a9a" stroke-width="1"/>
<line x1="174" y1="405" x2="174" y2="400" stroke="#9a9a9a" stroke-width="1"/>
<line x1="174" y1="218.2" x2="174" y2="223.2" stroke="#9a9a9a" stroke-width="1"/>
<line x1="300.6" y1="405" x2="300.6" y2="400" stroke="#9a9a9a" stroke-width="1"/>
<line x1="300.6" y1="218.2" x2="300.6" y2="223.2" stroke="#9a9a9a" stroke-width="1"/>
<line x1="427" y1="405" x2="427" y2="400" stroke="#9a9a9a" stroke-width="1"/>
<line x1="427" y1="218.2" x2="427" y2="223.2" stroke="#9a9a9a" stroke-width="1"/>
<line x1="553.5" y1="405" x2="553.5" y2="400" stroke="#9a9a9a" stroke-width="1"/>
<line x1="553.5" y1="218.2" x2="553.5" y2="223.2" stroke="#9a9a9a" stroke-width="1"/>
<text x="43.5" y="409.6" text-anchor="end" font-family="Liberation Sans, sans-serif" font-size="11" font-weight="bold" fill="#262626">0</text>
<text x="43.5" y="368.0" text-anchor="end" font-family="Liberation Sans, sans-serif" font-size="11" font-weight="bold" fill="#262626">20</text>
<text x="43.5" y="326.5" text-anchor="end" font-family="Liberation Sans, sans-serif" font-size="11" font-weight="bold" fill="#262626">40</text>
<text x="43.5" y="284.9" text-anchor="end" font-family="Liberation Sans, sans-serif" font-size="11" font-weight="bold" fill="#262626">60</text>
<text x="43.5" y="243.4" text-anchor="end" font-family="Liberation Sans, sans-serif" font-size="11" font-weight="bold" fill="#262626">80</text>
<text x="43.5" y="222.8" text-anchor="end" font-family="Liberation Sans, sans-serif" font-size="11" font-weight="bold" fill="#262626"></text>
<text transform="translate(26.1,312) rotate(-90)" text-anchor="middle" textLength="110.6" lengthAdjust="spacingAndGlyphs" font-family="Liberation Sans, sans-serif" font-size="12.2" font-weight="bold" fill="#262626">Screw Speed (rpm)</text>
<g stroke="#0072BD" fill="none">
<path d="M50.6,384.2V280.3M56.6,280.3V342.7M62.3,342.7V290.7M69.0,290.7V321.9M75.0,321.9V332.3M81.7,332.3V342.7M88.3,342.7V384.2M94.3,384.2V342.7M100.6,342.7V332.3M106.8,332.3V321.9M113.4,321.9V269.9M119.7,269.9V280.3M126.1,280.3V259.5M132.1,259.5V311.5M138.9,311.5V259.5M145.1,259.5V321.9M151.1,321.9V353.1M157.8,353.1V290.7M163.8,290.7V301.1M170.0,301.1V311.5M176.2,311.5V332.3M188.9,332.3V373.8M195.6,373.8V353.1M201.6,353.1V394.6M209.2,394.6V249.2M214.4,249.2V301.1M221.2,301.1V249.2M227.2,249.2V332.3M239.9,332.3V311.5M246.1,311.5V301.1M252.3,301.1V311.5M258.8,311.5V301.1M265.0,301.1V373.8M271.7,373.8V269.9M277.9,269.9V290.7M284.3,290.7V342.7M296.8,342.7V353.1M302.9,353.1V373.8M309.3,373.8V342.7M316.0,342.7V259.5M322.2,259.5V363.4M328.4,363.4V384.2M335.1,384.2V321.9M341.1,321.9V384.2M347.8,384.2V332.3M354.0,332.3V384.2M360.7,384.2V280.3M366.7,280.3V342.7M372.9,342.7V301.1M379.3,301.1V290.7M391.7,290.7V280.3M397.9,280.3V353.1M404.6,353.1V384.2M411.2,384.2V290.7M417.2,290.7V353.1M423.9,353.1V249.2M430.1,249.2V353.1M436.6,353.1V280.3M442.8,280.3V342.7M455.7,342.7V301.1M461.7,301.1V249.2M468.3,249.2V353.1M474.4,353.1V238.8M480.4,238.8V280.3M486.7,280.3V394.6M494.0,394.6V259.5M499.6,259.5V280.3M506.0,280.3V311.5M512.2,311.5V342.7M525.1,342.7V384.2M531.1,384.2V321.9M537.3,321.9V290.7M543.8,290.7V301.1M550.0,301.1V332.3M556.8,332.3V249.2M563.2,249.2V342.7M569.4,342.7V238.8M576.1,238.8V394.6M582.1,394.6V321.9M588.3,321.9V280.3M600.6,280.3V311.5M607.2,311.5V301.1M613.4,301.1V280.3M619.9,280.3V269.9M626.1,269.9V342.7M632.8,342.7V301.1M639.0,301.1V259.5M645.4,259.5V301.1M651.7,301.1V311.5M657.9,311.5V259.5M664.3,259.5V290.7M670.6,290.7V384.2" stroke-opacity="0.42" stroke-width="1.1"/>
<path d="M47.2,384.2H50.6M50.6,280.3H56.6M56.6,342.7H62.3M62.3,290.7H69.0M75.0,332.3H81.7M81.7,342.7H88.3M88.3,384.2H94.3M94.3,342.7H100.6M100.6,332.3H106.8M113.4,269.9H119.7M119.7,280.3H126.1M126.1,259.5H132.1M132.1,311.5H138.9M138.9,259.5H145.1M151.1,353.1H157.8M157.8,290.7H163.8M163.8,301.1H170.0M170.0,311.5H176.2M176.2,332.3H188.9M188.9,373.8H195.6M195.6,353.1H201.6M201.6,394.6H209.2M214.4,301.1H221.2M227.2,332.3H239.9M239.9,311.5H246.1M246.1,301.1H252.3M252.3,311.5H258.8M258.8,301.1H265.0M265.0,373.8H271.7M271.7,269.9H277.9M277.9,290.7H284.3M284.3,342.7H296.8M296.8,353.1H302.9M302.9,373.8H309.3M309.3,342.7H316.0M316.0,259.5H322.2M322.2,363.4H328.4M328.4,384.2H335.1M341.1,384.2H347.8M347.8,332.3H354.0M354.0,384.2H360.7M360.7,280.3H366.7M366.7,342.7H372.9M372.9,301.1H379.3M379.3,290.7H391.7M391.7,280.3H397.9M397.9,353.1H404.6M404.6,384.2H411.2M411.2,290.7H417.2M417.2,353.1H423.9M430.1,353.1H436.6M436.6,280.3H442.8M442.8,342.7H455.7M455.7,301.1H461.7M468.3,353.1H474.4M480.4,280.3H486.7M486.7,394.6H494.0M494.0,259.5H499.6M499.6,280.3H506.0M506.0,311.5H512.2M512.2,342.7H525.1M525.1,384.2H531.1M537.3,290.7H543.8M543.8,301.1H550.0M550.0,332.3H556.8M563.2,342.7H569.4M576.1,394.6H582.1M588.3,280.3H600.6M600.6,311.5H607.2M607.2,301.1H613.4M613.4,280.3H619.9M619.9,269.9H626.1M626.1,342.7H632.8M632.8,301.1H639.0M639.0,259.5H645.4M645.4,301.1H651.7M651.7,311.5H657.9M657.9,259.5H664.3M664.3,290.7H670.6M670.6,384.2H676.1" stroke-opacity="0.82" stroke-width="1.6"/>
</g>
<g fill="#0072BD" fill-opacity="0.93"><rect x="69.1" y="319.78" width="5.8" height="4.2" rx="0.6"/><rect x="106.9" y="319.78" width="6.4" height="4.2" rx="0.6"/><rect x="145.2" y="319.78" width="5.8" height="4.2" rx="0.6"/><rect x="209.3" y="246.85" width="5.0" height="5.6" rx="0.6"/><rect x="221.3" y="246.85" width="5.8" height="5.6" rx="0.6"/><rect x="335.2" y="319.78" width="5.8" height="4.2" rx="0.6"/><rect x="424.0" y="246.85" width="6.0" height="5.6" rx="0.6"/><rect x="461.8" y="246.85" width="6.4" height="5.6" rx="0.6"/><rect x="474.5" y="236.96" width="5.8" height="3.6" rx="0.6"/><rect x="531.2" y="319.78" width="6.0" height="4.2" rx="0.6"/><rect x="556.9" y="246.85" width="6.2" height="5.6" rx="0.6"/><rect x="569.5" y="236.96" width="6.5" height="3.6" rx="0.6"/><rect x="582.2" y="319.78" width="6.0" height="4.2" rx="0.6"/>
</g>
<rect x="320.6" y="219.6" width="86.6" height="14.3" fill="#fff" stroke="#c6c6c6" stroke-width="1"/>
<line x1="322.7" y1="226.8" x2="339" y2="226.8" stroke="#0072BD" stroke-opacity="0.62" stroke-width="1.1"/>
<text x="341.4" y="230.9" textLength="62.6" lengthAdjust="spacingAndGlyphs" font-family="Liberation Sans, sans-serif" font-size="10.4" font-weight="bold" fill="#262626">Screw Speed</text>
<text x="362.5" y="417.9" text-anchor="middle" font-family="Liberation Sans, sans-serif" font-size="12" font-weight="bold" fill="#262626">(b)</text>
<line x1="47" y1="461.60" x2="677" y2="461.60" stroke="#dcdcdc" stroke-width="1" stroke-dasharray="5.7 3.2" stroke-dashoffset="-1.6"/>
<line x1="47" y1="492.58" x2="677" y2="492.58" stroke="#dcdcdc" stroke-width="1" stroke-dasharray="5.7 3.2" stroke-dashoffset="-1.6"/>
<line x1="47" y1="523.56" x2="677" y2="523.56" stroke="#dcdcdc" stroke-width="1" stroke-dasharray="5.7 3.2" stroke-dashoffset="-1.6"/>
<line x1="47" y1="554.54" x2="677" y2="554.54" stroke="#dcdcdc" stroke-width="1" stroke-dasharray="5.7 3.2" stroke-dashoffset="-1.6"/>
<line x1="47" y1="585.52" x2="677" y2="585.52" stroke="#dcdcdc" stroke-width="1" stroke-dasharray="5.7 3.2" stroke-dashoffset="-1.6"/>
<line x1="174" y1="430.6" x2="174" y2="616.5" stroke="#dcdcdc" stroke-width="1" stroke-dasharray="5.7 3.2"/>
<line x1="300.6" y1="430.6" x2="300.6" y2="616.5" stroke="#dcdcdc" stroke-width="1" stroke-dasharray="5.7 3.2"/>
<line x1="427" y1="430.6" x2="427" y2="616.5" stroke="#dcdcdc" stroke-width="1" stroke-dasharray="5.7 3.2"/>
<line x1="553.5" y1="430.6" x2="553.5" y2="616.5" stroke="#dcdcdc" stroke-width="1" stroke-dasharray="5.7 3.2"/>
<path d="M47,430.6V616.5M677,430.6V616.5" fill="none" stroke="#c8c8c8" stroke-width="1"/>
<path d="M46.5,430.6H677.5M46.5,616.5H677.5" fill="none" stroke="#a9a9a9" stroke-width="1"/>
<line x1="47" y1="461.6" x2="52" y2="461.6" stroke="#9a9a9a" stroke-width="1"/>
<line x1="672" y1="461.6" x2="677" y2="461.6" stroke="#9a9a9a" stroke-width="1"/>
<line x1="47" y1="492.58000000000004" x2="52" y2="492.58000000000004" stroke="#9a9a9a" stroke-width="1"/>
<line x1="672" y1="492.58000000000004" x2="677" y2="492.58000000000004" stroke="#9a9a9a" stroke-width="1"/>
<line x1="47" y1="523.56" x2="52" y2="523.56" stroke="#9a9a9a" stroke-width="1"/>
<line x1="672" y1="523.56" x2="677" y2="523.56" stroke="#9a9a9a" stroke-width="1"/>
<line x1="47" y1="554.54" x2="52" y2="554.54" stroke="#9a9a9a" stroke-width="1"/>
<line x1="672" y1="554.54" x2="677" y2="554.54" stroke="#9a9a9a" stroke-width="1"/>
<line x1="47" y1="585.52" x2="52" y2="585.52" stroke="#9a9a9a" stroke-width="1"/>
<line x1="672" y1="585.52" x2="677" y2="585.52" stroke="#9a9a9a" stroke-width="1"/>
<line x1="174" y1="616.5" x2="174" y2="611.5" stroke="#9a9a9a" stroke-width="1"/>
<line x1="174" y1="430.6" x2="174" y2="435.6" stroke="#9a9a9a" stroke-width="1"/>
<line x1="300.6" y1="616.5" x2="300.6" y2="611.5" stroke="#9a9a9a" stroke-width="1"/>
<line x1="300.6" y1="430.6" x2="300.6" y2="435.6" stroke="#9a9a9a" stroke-width="1"/>
<line x1="427" y1="616.5" x2="427" y2="611.5" stroke="#9a9a9a" stroke-width="1"/>
<line x1="427" y1="430.6" x2="427" y2="435.6" stroke="#9a9a9a" stroke-width="1"/>
<line x1="553.5" y1="616.5" x2="553.5" y2="611.5" stroke="#9a9a9a" stroke-width="1"/>
<line x1="553.5" y1="430.6" x2="553.5" y2="435.6" stroke="#9a9a9a" stroke-width="1"/>
<text x="43.5" y="435.2" text-anchor="end" font-family="Liberation Sans, sans-serif" font-size="11" font-weight="bold" fill="#262626">240</text>
<text x="43.5" y="466.2" text-anchor="end" font-family="Liberation Sans, sans-serif" font-size="11" font-weight="bold" fill="#262626">230</text>
<text x="43.5" y="497.2" text-anchor="end" font-family="Liberation Sans, sans-serif" font-size="11" font-weight="bold" fill="#262626">220</text>
<text x="43.5" y="528.2" text-anchor="end" font-family="Liberation Sans, sans-serif" font-size="11" font-weight="bold" fill="#262626">210</text>
<text x="43.5" y="559.1" text-anchor="end" font-family="Liberation Sans, sans-serif" font-size="11" font-weight="bold" fill="#262626">200</text>
<text x="43.5" y="590.1" text-anchor="end" font-family="Liberation Sans, sans-serif" font-size="11" font-weight="bold" fill="#262626">190</text>
<text x="43.5" y="621.1" text-anchor="end" font-family="Liberation Sans, sans-serif" font-size="11" font-weight="bold" fill="#262626">180</text>
<text transform="translate(20.1,523.6) rotate(-90)" text-anchor="middle" textLength="128" lengthAdjust="spacingAndGlyphs" font-family="Liberation Sans, sans-serif" font-size="12.3" font-weight="bold" fill="#262626">Melt Temperature (°C)</text>
<path d="M47.20,537.20 C48.33,533.87 49.47,529.90 50.60,527.20 C51.70,524.58 52.80,521.54 53.90,520.60 C55.00,519.66 56.10,519.01 57.20,518.80 C58.70,518.51 60.20,518.59 61.70,518.30 C63.17,518.02 64.63,516.02 66.10,515.00 C67.60,513.96 69.10,512.10 70.60,512.10 C71.70,512.10 72.80,513.30 73.90,513.90 C75.23,514.63 76.57,515.72 77.90,516.10 C79.90,516.67 81.90,516.65 83.90,517.20 C85.73,517.70 87.57,518.27 89.40,520.10 C90.17,520.86 90.93,525.10 91.70,527.20 C93.90,533.22 96.10,537.30 98.30,542.80 C100.53,548.39 102.77,555.29 105.00,560.60 C107.23,565.91 109.47,571.07 111.70,575.00 C113.17,577.58 114.63,581.70 116.10,581.70 C117.97,581.70 119.83,581.70 121.70,581.70 C123.53,581.70 125.37,582.72 127.20,583.20 C129.07,583.69 130.93,583.98 132.80,584.60 C133.90,584.96 135.00,586.10 136.10,586.10 C137.20,586.10 138.30,580.78 139.40,576.10 C140.53,571.28 141.67,561.23 142.80,551.70 C143.90,542.45 145.00,528.17 146.10,518.30 C147.20,508.43 148.30,495.31 149.40,491.70 C150.90,486.78 152.40,485.27 153.90,482.80 C155.37,480.39 156.83,477.45 158.30,476.60 C159.07,476.16 159.83,476.21 160.60,475.70 C161.70,474.97 162.80,469.18 163.90,466.10 C165.00,463.02 166.10,459.13 167.20,457.20 C168.33,455.21 169.47,453.17 170.60,452.80 C171.87,452.39 173.13,452.43 174.40,452.10 C176.27,451.62 178.13,449.40 180.00,449.40 C180.73,449.40 181.47,454.98 182.20,458.30 C183.33,463.43 184.47,469.20 185.60,476.10 C186.33,480.57 187.07,487.96 187.80,491.70 C189.27,499.18 190.73,502.47 192.20,508.30 C193.70,514.26 195.20,521.01 196.70,527.20 C198.90,536.28 201.10,544.55 203.30,553.90 C204.80,560.27 206.30,570.35 207.80,573.90 C208.90,576.51 210.00,578.17 211.10,579.40 C212.97,581.49 214.83,582.03 216.70,583.90 C218.53,585.74 220.37,589.37 222.20,591.20 C223.47,592.46 224.73,594.30 226.00,594.30 C226.97,594.30 227.93,590.54 228.90,587.20 C230.37,582.13 231.83,567.38 233.30,558.30 C234.43,551.28 235.57,542.47 236.70,538.30 C238.17,532.90 239.63,527.62 241.10,526.80 C242.60,525.96 244.10,525.40 245.60,525.40 C247.07,525.40 248.53,525.70 250.00,525.70 C251.47,525.70 252.93,523.20 254.40,523.20 C255.90,523.20 257.40,524.48 258.90,525.40 C260.37,526.30 261.83,528.00 263.30,529.00 C265.53,530.52 267.77,530.80 270.00,532.80 C271.10,533.79 272.20,536.89 273.30,538.30 C275.17,540.68 277.03,541.78 278.90,543.90 C281.13,546.44 283.37,549.53 285.60,552.80 C287.43,555.48 289.27,560.35 291.10,561.70 C292.60,562.81 294.10,563.50 295.60,563.90 C296.87,564.23 298.13,564.22 299.40,564.60 C301.27,565.16 303.13,569.33 305.00,570.60 C306.87,571.87 308.73,573.20 310.60,573.40 C313.53,573.72 316.47,573.90 319.40,573.90 C322.37,573.90 325.33,571.02 328.30,569.90 C330.53,569.06 332.77,568.93 335.00,567.70 C336.47,566.89 337.93,564.01 339.40,561.70 C340.73,559.60 342.07,554.30 343.40,554.30 C344.67,554.30 345.93,556.18 347.20,557.20 C348.33,558.11 349.47,560.10 350.60,560.10 C352.43,560.10 354.27,557.90 356.10,557.90 C357.97,557.90 359.83,559.11 361.70,560.60 C363.17,561.77 364.63,566.68 366.10,569.40 C367.60,572.19 369.10,574.31 370.60,577.20 C372.80,581.43 375.00,588.06 377.20,591.70 C379.43,595.40 381.67,597.88 383.90,600.60 C385.73,602.83 387.57,606.80 389.40,606.80 C390.90,606.80 392.40,605.18 393.90,604.60 C395.37,604.04 396.83,603.20 398.30,603.20 C400.17,603.20 402.03,604.76 403.90,605.00 C405.53,605.21 407.17,605.40 408.80,605.40 C409.77,605.40 410.73,598.86 411.70,593.90 C412.80,588.25 413.90,579.68 415.00,569.40 C415.73,562.54 416.47,548.75 417.20,542.80 C418.33,533.60 419.47,526.94 420.60,522.80 C421.13,520.85 421.67,519.48 422.20,518.30 C423.70,514.98 425.20,511.88 426.70,510.60 C428.03,509.46 429.37,508.30 430.70,508.30 C431.93,508.30 433.17,510.10 434.40,510.10 C435.53,510.10 436.67,507.42 437.80,506.10 C439.27,504.39 440.73,501.69 442.20,501.00 C444.07,500.12 445.93,500.15 447.80,499.40 C449.27,498.81 450.73,496.60 452.20,496.60 C452.93,496.60 453.67,498.68 454.40,499.40 C455.90,500.87 457.40,501.21 458.90,502.80 C460.00,503.97 461.10,506.80 462.20,508.30 C463.70,510.34 465.20,512.69 466.70,513.40 C468.53,514.27 470.37,514.33 472.20,515.00 C473.70,515.55 475.20,517.20 476.70,517.20 C478.17,517.20 479.63,512.80 481.10,512.80 C482.60,512.80 484.10,515.91 485.60,518.30 C487.07,520.63 488.53,524.97 490.00,528.30 C491.47,531.63 492.93,536.26 494.40,538.30 C495.90,540.39 497.40,542.80 498.90,542.80 C499.63,542.80 500.37,540.47 501.10,538.30 C502.20,535.04 503.30,523.26 504.40,518.30 C505.53,513.18 506.67,508.67 507.80,506.10 C508.90,503.60 510.00,501.90 511.10,500.60 C512.60,498.83 514.10,498.22 515.60,496.60 C517.07,495.02 518.53,492.60 520.00,490.60 C521.47,488.60 522.93,484.60 524.40,484.60 C525.53,484.60 526.67,485.97 527.80,486.80 C529.27,487.88 530.73,490.60 532.20,490.60 C534.07,490.60 535.93,487.39 537.80,487.20 C540.40,486.94 543.00,487.11 545.60,486.80 C546.50,486.69 547.40,481.43 548.30,478.30 C549.43,474.36 550.57,466.80 551.70,465.00 C552.80,463.25 553.90,462.01 555.00,461.70 C556.47,461.28 557.93,461.41 559.40,461.00 C560.90,460.58 562.40,457.52 563.90,456.10 C566.13,453.99 568.37,450.60 570.60,450.60 C572.07,450.60 573.53,454.56 575.00,456.10 C576.47,457.64 577.93,458.52 579.40,460.10 C580.90,461.72 582.40,464.57 583.90,466.10 C585.73,467.97 587.57,467.82 589.40,470.60 C590.53,472.32 591.67,486.46 592.80,489.40 C593.90,492.25 595.00,492.73 596.10,495.00 C598.33,499.60 600.57,506.85 602.80,513.90 C604.27,518.53 605.73,524.88 607.20,529.40 C608.70,534.02 610.20,538.21 611.70,541.70 C613.17,545.11 614.63,548.51 616.10,550.60 C617.20,552.17 618.30,553.82 619.40,554.30 C621.27,555.11 623.13,554.96 625.00,555.70 C626.47,556.28 627.93,557.93 629.40,559.40 C630.90,560.90 632.40,563.07 633.90,565.00 C635.00,566.42 636.10,568.33 637.20,569.40 C639.43,571.58 641.67,572.29 643.90,574.30 C645.73,575.95 647.57,578.66 649.40,580.60 C651.27,582.57 653.13,585.03 655.00,586.10 C656.27,586.83 657.53,587.70 658.80,587.70 C660.87,587.70 662.93,583.20 665.00,583.20 C666.47,583.20 667.93,584.05 669.40,584.60 C671.63,585.43 673.87,586.67 676.10,587.70" fill="none" stroke="#0072BD" stroke-opacity="0.55" stroke-width="1.25" stroke-linejoin="round"/>
<rect x="307.9" y="431.8" width="109.8" height="14.8" fill="#fff" stroke="#c6c6c6" stroke-width="1"/>
<line x1="310.6" y1="439.2" x2="326.6" y2="439.2" stroke="#0072BD" stroke-opacity="0.62" stroke-width="1.1"/>
<text x="328.9" y="443.3" textLength="85.8" lengthAdjust="spacingAndGlyphs" font-family="Liberation Sans, sans-serif" font-size="10.4" font-weight="bold" fill="#262626">Melt Temperature</text>
<text x="361.6" y="629.5" text-anchor="middle" font-family="Liberation Sans, sans-serif" font-size="12" font-weight="bold" fill="#262626">(c)</text>
<line x1="54.5" y1="674.00" x2="674.3" y2="674.00" stroke="#9a9a9a" stroke-width="1.5" stroke-dasharray="6.3 2.65" stroke-dashoffset="0.35"/>
<line x1="54.5" y1="709.45" x2="674.3" y2="709.45" stroke="#bdbdbd" stroke-width="1.2" stroke-dasharray="6.3 2.65" stroke-dashoffset="0.35"/>
<line x1="54.5" y1="744.90" x2="674.3" y2="744.90" stroke="#9a9a9a" stroke-width="1.5" stroke-dasharray="6.3 2.65" stroke-dashoffset="0.35"/>
<line x1="54.5" y1="780.35" x2="674.3" y2="780.35" stroke="#bdbdbd" stroke-width="1.2" stroke-dasharray="6.3 2.65" stroke-dashoffset="0.35"/>
<line x1="179.3" y1="638.2" x2="179.3" y2="815.6" stroke="#7a7a7a" stroke-width="1.1" stroke-dasharray="6.3 2.7" stroke-dashoffset="1.7"/>
<line x1="303.5" y1="638.2" x2="303.5" y2="815.6" stroke="#7a7a7a" stroke-width="1.1" stroke-dasharray="6.3 2.7" stroke-dashoffset="1.7"/>
<line x1="428.4" y1="638.2" x2="428.4" y2="815.6" stroke="#7a7a7a" stroke-width="1.1" stroke-dasharray="6.3 2.7" stroke-dashoffset="1.7"/>
<line x1="553.3" y1="638.2" x2="553.3" y2="815.6" stroke="#7a7a7a" stroke-width="1.1" stroke-dasharray="6.3 2.7" stroke-dashoffset="1.7"/>
<line x1="54.5" y1="638.2" x2="674.3" y2="638.2" stroke="#a0a0a0" stroke-width="1.2"/>
<line x1="674.3" y1="638.2" x2="674.3" y2="815.6" stroke="#808080" stroke-width="1.2"/>
<line x1="54.5" y1="638.2" x2="54.5" y2="815.6" stroke="#2a2a2a" stroke-width="1.2"/>
<line x1="54.5" y1="815.6" x2="674.3" y2="815.6" stroke="#2a2a2a" stroke-width="1.2"/>
<line x1="670.3" y1="638.5" x2="674.3" y2="638.5" stroke="#555" stroke-width="1"/>
<line x1="54.5" y1="638.5" x2="58.5" y2="638.5" stroke="#222" stroke-width="1"/>
<line x1="670.3" y1="674.0" x2="674.3" y2="674.0" stroke="#555" stroke-width="1"/>
<line x1="54.5" y1="674.0" x2="58.5" y2="674.0" stroke="#222" stroke-width="1"/>
<line x1="670.3" y1="709.4" x2="674.3" y2="709.4" stroke="#555" stroke-width="1"/>
<line x1="54.5" y1="709.4" x2="58.5" y2="709.4" stroke="#222" stroke-width="1"/>
<line x1="670.3" y1="744.9" x2="674.3" y2="744.9" stroke="#555" stroke-width="1"/>
<line x1="54.5" y1="744.9" x2="58.5" y2="744.9" stroke="#222" stroke-width="1"/>
<line x1="670.3" y1="780.3" x2="674.3" y2="780.3" stroke="#555" stroke-width="1"/>
<line x1="54.5" y1="780.3" x2="58.5" y2="780.3" stroke="#222" stroke-width="1"/>
<line x1="670.3" y1="815.8" x2="674.3" y2="815.8" stroke="#555" stroke-width="1"/>
<line x1="54.5" y1="815.8" x2="58.5" y2="815.8" stroke="#222" stroke-width="1"/>
<line x1="179.3" y1="815.6" x2="179.3" y2="811.6" stroke="#222" stroke-width="1"/>
<line x1="179.3" y1="638.2" x2="179.3" y2="642.2" stroke="#222" stroke-width="1"/>
<line x1="303.5" y1="815.6" x2="303.5" y2="811.6" stroke="#222" stroke-width="1"/>
<line x1="303.5" y1="638.2" x2="303.5" y2="642.2" stroke="#222" stroke-width="1"/>
<line x1="428.4" y1="815.6" x2="428.4" y2="811.6" stroke="#222" stroke-width="1"/>
<line x1="428.4" y1="638.2" x2="428.4" y2="642.2" stroke="#222" stroke-width="1"/>
<line x1="553.3" y1="815.6" x2="553.3" y2="811.6" stroke="#222" stroke-width="1"/>
<line x1="553.3" y1="638.2" x2="553.3" y2="642.2" stroke="#222" stroke-width="1"/>
<polyline points="54.8,653.8 55.5,655.0 57.0,656.5 57.4,658.1 57.5,720.0 58.7,781.5 59.7,791.2 63.0,793.3 63.4,768.5 65.1,764.6 69.5,764.1 70.6,792.3 76.0,793.3 76.4,781.5 81.4,779.3 82.5,773.9 86.8,772.8 88.9,767.4 93.3,766.7 94.4,762.0 95.0,712.2 96.5,706.8 100.8,698.8 101.3,759.8 105.2,764.1 107.3,772.8 112.7,773.9 114.9,778.2 119.2,777.1 119.7,792.3 124.6,794.4 127.9,791.2 131.8,791.8 132.2,796.6 137.6,796.6 138.2,781.5 139.8,779.3 143.7,780.4 144.7,796.6 150.1,799.8 151.2,783.6 153.4,784.0 156.6,790.1 157.7,776.0 161.0,773.2 163.1,775.0 164.2,799.8 167.5,803.1 171.8,802.0 176.1,800.9 177.2,797.7 180.4,798.8 181.5,791.2 186.9,790.1 193.4,790.1 194.5,766.3 196.7,759.8 199.9,755.5 200.6,775.0 205.3,776.0 206.4,751.2 208.6,738.2 210.7,723.0 212.5,711.1 213.3,759.8 214.6,803.1 218.3,803.1 219.4,792.3 225.4,791.2 226.1,802.0 230.8,802.0 232.5,779.3 235.1,779.3 239.5,784.0 243.4,786.9 244.2,794.4 249.2,795.5 251.4,798.8 255.7,799.8 257.9,796.2 262.2,795.5 264.4,797.7 269.3,796.6 270.2,762.0 273.0,753.3 275.2,747.9 276.3,798.8 278.4,802.0 281.7,802.0 282.7,796.6 288.2,796.2 289.2,777.1 293.6,773.2 299.6,772.8 300.5,764.1 306.1,760.9 306.7,742.5 308.2,737.1 310.4,732.8 312.6,729.5 313.0,764.1 315.8,766.3 319.1,768.5 319.7,796.6 322.3,799.8 324.9,799.8 326.2,757.6 327.7,753.3 330.5,749.0 331.4,720.9 333.1,715.5 335.3,710.0 337.5,706.8 338.5,770.6 341.3,778.9 343.5,779.7 344.4,725.2 347.2,716.5 349.4,710.0 350.4,768.5 353.7,772.8 355.8,773.9 356.9,727.4 360.2,716.5 362.3,709.0 363.4,785.8 366.7,794.4 368.8,794.4 369.9,768.5 372.1,766.3 374.7,766.3 376.0,784.7 379.6,786.2 381.8,790.1 386.1,789.0 390.5,787.9 393.2,789.0 394.3,790.1 399.7,789.7 400.8,754.4 403.0,750.1 405.6,748.6 406.2,705.7 408.4,694.9 411.6,685.2 412.7,738.2 413.8,781.5 417.0,789.0 418.1,790.1 419.2,759.8 421.4,759.4 424.2,762.0 425.7,798.8 427.9,806.3 430.0,807.4 431.1,779.3 433.3,773.9 436.5,772.8 438.0,798.8 440.8,802.0 443.0,803.1 444.1,783.6 447.3,781.5 454.9,781.0 456.0,795.5 460.3,796.6 462.5,800.9 463.6,807.4 467.9,807.8 469.0,779.3 471.1,773.9 473.3,771.7 474.8,772.8 476.1,806.3 480.4,807.8 481.5,800.9 486.9,800.5 487.5,762.0 489.1,751.2 491.2,731.7 493.4,714.4 494.0,770.6 495.6,800.9 498.8,802.7 501.0,798.8 505.3,802.0 507.0,794.4 510.7,796.6 512.9,785.8 516.1,784.7 520.4,783.6 524.3,782.5 524.8,759.8 526.9,749.0 530.2,733.9 531.3,781.5 533.4,787.9 536.7,789.0 537.7,798.8 542.1,799.8 544.2,797.7 549.6,799.8 550.3,790.1 555.1,790.1 556.1,810.7 560.5,811.3 562.2,791.1 564.3,789.0 567.6,787.9 568.7,811.7 570.8,813.4 574.1,812.7 575.6,790.0 577.3,781.4 579.5,764.1 580.8,753.3 581.2,787.9 583.8,791.1 587.0,794.4 588.1,803.0 592.4,804.7 598.9,804.1 600.0,796.5 604.3,795.4 605.4,797.6 611.5,798.3 611.9,801.3 618.4,801.9 624.4,801.3 625.3,779.2 629.2,774.9 630.3,791.1 635.7,791.8 636.8,800.8 642.2,800.8 643.3,790.5 648.7,790.0 649.7,785.7 655.2,784.6 656.2,797.6 661.6,798.3 662.7,790.0 667.1,790.0 668.1,742.5 670.3,727.3 673.5,720.8 674.3,719.0" fill="none" stroke="#0072BD" stroke-opacity="0.8" stroke-width="1.3" stroke-linejoin="round"/>
<path d="M54.6,652.9 L56.2,653.6 L57.9,655.2 L57.9,659.5 L55.2,660.3 Z" fill="#0072BD" fill-opacity="0.9"/>
<text x="25.999999999999996" y="642.9" textLength="30.3" lengthAdjust="spacingAndGlyphs" font-family="Liberation Sans, sans-serif" font-size="10.6" font-weight="bold" fill="#2e2a33">3000</text>
<text x="25.999999999999996" y="678.4" textLength="30.3" lengthAdjust="spacingAndGlyphs" font-family="Liberation Sans, sans-serif" font-size="10.6" font-weight="bold" fill="#2e2a33">2500</text>
<text x="25.999999999999996" y="713.8" textLength="30.3" lengthAdjust="spacingAndGlyphs" font-family="Liberation Sans, sans-serif" font-size="10.6" font-weight="bold" fill="#2e2a33">2000</text>
<text x="25.999999999999996" y="749.3" textLength="30.3" lengthAdjust="spacingAndGlyphs" font-family="Liberation Sans, sans-serif" font-size="10.6" font-weight="bold" fill="#2e2a33">1500</text>
<text x="25.999999999999996" y="784.7" textLength="30.3" lengthAdjust="spacingAndGlyphs" font-family="Liberation Sans, sans-serif" font-size="10.6" font-weight="bold" fill="#2e2a33">1000</text>
<text x="33.599999999999994" y="820.2" textLength="22.7" lengthAdjust="spacingAndGlyphs" font-family="Liberation Sans, sans-serif" font-size="10.6" font-weight="bold" fill="#2e2a33">500</text>
<text x="51.7" y="829.8" textLength="7" lengthAdjust="spacingAndGlyphs" font-family="Liberation Sans, sans-serif" font-size="10.6" font-weight="bold" fill="#2e2a33">0</text>
<text x="164.1" y="829.8" textLength="37.4" lengthAdjust="spacingAndGlyphs" font-family="Liberation Sans, sans-serif" font-size="10.6" font-weight="bold" fill="#2e2a33">20000</text>
<text x="288.9" y="829.8" textLength="37.4" lengthAdjust="spacingAndGlyphs" font-family="Liberation Sans, sans-serif" font-size="10.6" font-weight="bold" fill="#2e2a33">40000</text>
<text x="413.7" y="829.8" textLength="37.4" lengthAdjust="spacingAndGlyphs" font-family="Liberation Sans, sans-serif" font-size="10.6" font-weight="bold" fill="#2e2a33">60000</text>
<text x="538.3" y="829.8" textLength="37.4" lengthAdjust="spacingAndGlyphs" font-family="Liberation Sans, sans-serif" font-size="10.6" font-weight="bold" fill="#2e2a33">80000</text>
<text x="324.4" y="844.2" textLength="94" lengthAdjust="spacingAndGlyphs" font-family="Liberation Sans, sans-serif" font-size="12" font-weight="bold" fill="#2e2a33">Data Samples</text>
<text transform="translate(22.2,715.6) rotate(-90)" text-anchor="middle" textLength="133" lengthAdjust="spacingAndGlyphs" font-family="Liberation Sans, sans-serif" font-size="12" font-weight="bold" fill="#2e2a33">Melt Viscosity (Pa.s)</text>
<rect x="319.4" y="639.2" width="90.3" height="14.3" fill="#fff" stroke="#333" stroke-width="1"/>
<line x1="321.5" y1="646.3" x2="338.8" y2="646.3" stroke="#0072BD" stroke-opacity="0.8" stroke-width="1.3"/>
<text x="340.9" y="650.9" textLength="77.6" lengthAdjust="spacingAndGlyphs" font-family="Liberation Sans, sans-serif" font-size="10.8" font-weight="bold" fill="#2e2a33">Melt Viscosity</text>
<text x="362.5" y="874.3" text-anchor="middle" font-family="Liberation Sans, sans-serif" font-size="12" font-weight="bold" fill="#262626">(d)</text>
</svg></body></html>
